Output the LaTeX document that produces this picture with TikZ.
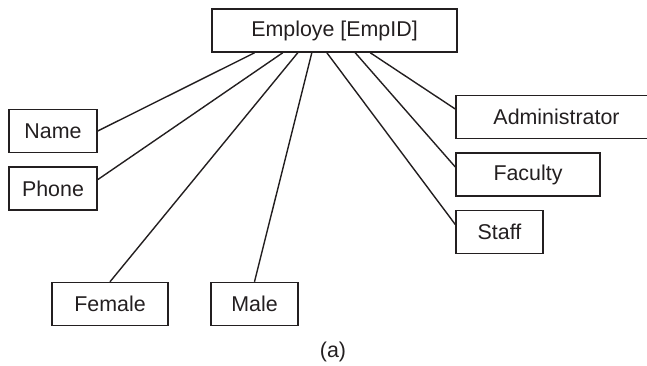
\documentclass[tikz,border=0pt]{standalone}
\usepackage{fontspec}
\setmainfont{Liberation Sans}
\usepackage{tikz}
\usetikzlibrary{positioning,calc}
\definecolor{ink}{HTML}{231F20}
\tikzset{
  entity/.style={rectangle, draw=ink, line width=0.75pt, inner sep=0pt,
                 minimum height=21.5pt, align=center, text=ink,
                 font=\fontsize{10.7}{12}\selectfont},
  link/.style={draw=ink, line width=0.7pt}
}

\begin{document}
\begin{tikzpicture}[x=0.5pt, y=-0.5pt]
\useasboundingbox (0,0) rectangle (647,365);
\node[entity, minimum width=122.5pt] (emp) at (334.5,30.5) {Employe [EmpID]};
\node[entity, minimum width=44pt] (name) at (53,131) {Name};
\node[entity, minimum width=44pt] (phone) at (53,188.5) {Phone};
\node[entity, minimum width=58pt] (female) at (110,304) {Female};
\node[entity, minimum width=43.5pt] (male) at (254.5,304) {Male};
\node[entity, minimum width=100.5pt] (admin) at (556.5,117) {Administrator};
\node[entity, minimum width=72pt] (faculty) at (528,174.5) {Faculty};
\node[entity, minimum width=43.5pt] (staff) at (499.5,232) {Staff};
\node[font=\fontsize{10.7}{12}\selectfont, text=ink] (caption) at (333,352) {(a)};
\draw[link] ($(emp.south west)!0.176!(emp.south east)$) -- (name.east);
\draw[link] ($(emp.south west)!0.29!(emp.south east)$) -- ($(phone.north east)!0.3!(phone.south east)$);
\draw[link] ($(emp.south west)!0.351!(emp.south east)$) -- (female.north);
\draw[link] ($(emp.south west)!0.408!(emp.south east)$) -- (male.north);
\draw[link] ($(emp.south west)!0.469!(emp.south east)$) -- ($(staff.north west)!0.33!(staff.south west)$);
\draw[link] ($(emp.south west)!0.584!(emp.south east)$) -- ($(faculty.north west)!0.33!(faculty.south west)$);
\draw[link] ($(emp.south west)!0.645!(emp.south east)$) -- ($(admin.north west)!0.32!(admin.south west)$);
\end{tikzpicture}
\end{document}
